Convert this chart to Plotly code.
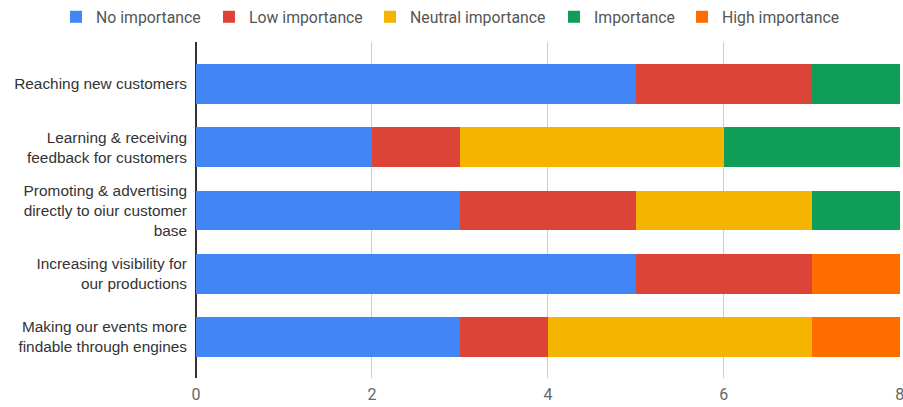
import plotly.graph_objects as go

categories = [
    "Reaching new customers",
    "Learning & receiving<br>feedback for customers",
    "Promoting & advertising<br>directly to oiur customer<br>base",
    "Increasing visibility for<br>our productions",
    "Making our events more<br>findable through engines",
]
series_names = ["No importance", "Low importance", "Neutral importance", "Importance", "High importance"]
no_importance = [5, 2, 3, 5, 3]
low_importance = [2, 1, 2, 2, 1]
neutral_importance = [0, 3, 2, 0, 3]
importance = [1, 2, 1, 0, 0]
high_importance = [0, 0, 0, 1, 1]
colors = ["#4285F4", "#DB4437", "#F4B400", "#0F9D58", "#FF6D01"]
x_ticks = [0, 2, 4, 6, 8]

W, H = 903, 407
legend_left_px = [56, 209, 370, 554, 682]
legend_keys = ["legend", "legend2", "legend3", "legend4", "legend5"]

fig = go.Figure()
for name, vals, col, lk in zip(series_names,
                               [no_importance, low_importance, neutral_importance, importance, high_importance],
                               colors, legend_keys):
    fig.add_trace(go.Bar(
        y=categories, x=vals, name=name, orientation="h", legend=lk,
        marker=dict(color=col, line=dict(width=0)),
    ))

layout_legends = {}
for lk, px in zip(legend_keys, legend_left_px):
    layout_legends[lk] = dict(orientation="h", x=px / W, xanchor="left", xref="container",
                              y=1.0, yanchor="top", yref="container",
                              font=dict(family="Roboto", size=15.8, color="#555"),
                              itemwidth=30, bgcolor="rgba(0,0,0,0)")

fig.update_layout(
    barmode="stack",
    bargap=0.37,
    width=W, height=H,
    margin=dict(l=196, r=3, t=42, b=29, autoexpand=False),
    plot_bgcolor="white", paper_bgcolor="white",
    showlegend=True,
    xaxis=dict(range=[0, 8.002], tickvals=x_ticks, showgrid=True, gridcolor="#cccccc",
               zeroline=True, zerolinecolor="#333333", zerolinewidth=1.5,
               tickfont=dict(family="Roboto", size=16, color="#666"),
               ticks="outside", ticklen=0, fixedrange=True, automargin=False,
               ticklabeloverflow="allow", ticklabelstandoff=2),
    yaxis=dict(autorange=False, range=[4.647, -0.663], showgrid=False, zeroline=False,
               tickfont=dict(family="Liberation Sans, Arial", size=15.4, color="#333"),
               ticklabelstandoff=8, fixedrange=True, automargin=False),
    **layout_legends,
)
fig.write_html("out.html")
